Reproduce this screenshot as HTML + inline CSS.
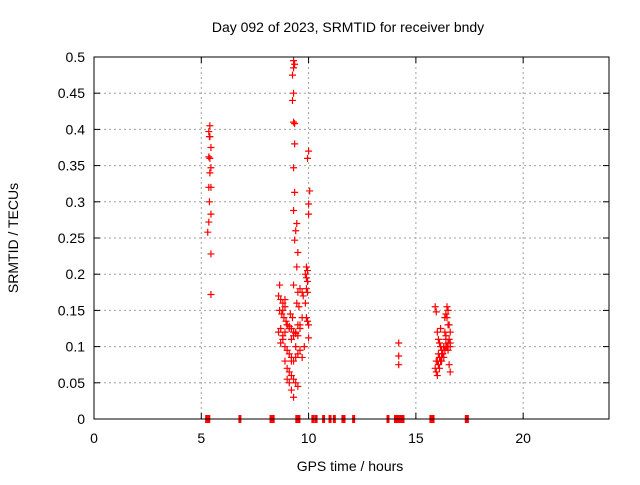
<!DOCTYPE html>
<html><head><meta charset="utf-8"><style>
body{margin:0;background:#fff;font-family:"Liberation Sans",sans-serif}
svg text{font-family:"Liberation Sans",sans-serif;font-size:14px;fill:#000}
</style></head><body>
<svg id="chart" width="640" height="480" xmlns="http://www.w3.org/2000/svg">
<rect width="640" height="480" fill="#fff"/>
<text x="348" y="32" text-anchor="middle">Day 092 of 2023, SRMTID for receiver bndy</text>
<text x="350" y="471" text-anchor="middle">GPS time / hours</text>
<text transform="translate(18,238) rotate(-90)" text-anchor="middle">SRMTID / TECUs</text>
<g id="grid"></g>
<g id="axes"></g>
<g id="pts"></g>
<rect x="94" y="57" width="515" height="362" fill="none" stroke="#000" stroke-width="1"/>
</svg>
<script>
const xTicks=[0,5,10,15,20];
const yTicks=[0,0.05,0.1,0.15,0.2,0.25,0.3,0.35,0.4,0.45,0.5];
const yTickLabels=["0","0.05","0.1","0.15","0.2","0.25","0.3","0.35","0.4","0.45","0.5"];
const hours=[5.4,5.35,5.4,5.38,5.45,5.35,5.4,5.45,5.4,5.35,5.45,5.38,5.45,5.35,5.3,5.45,5.45,
9.3,9.35,9.3,9.25,9.3,9.25,9.3,9.35,9.35,9.3,9.35,9.3,9.45,9.4,9.35,9.5,9.45,9.3,9.5,
10.0,9.95,10.05,10.0,10.0,9.9,9.95,9.85,9.9,9.95,9.9,9.95,9.85,9.9,9.95,10.0,10.0,
8.6,8.7,8.8,8.9,8.65,8.75,8.85,8.95,9.0,9.1,9.2,9.3,9.4,9.5,9.6,9.7,8.6,8.7,8.8,8.9,9.0,9.1,9.2,9.3,9.4,9.5,9.6,9.8,
8.7,8.8,8.9,9.0,9.1,9.2,9.3,9.4,9.5,9.6,9.7,8.9,9.0,9.1,9.2,9.3,9.4,9.5,9.0,9.1,9.2,9.3,9.4,9.2,9.25,8.8,9.6,9.7,8.65,8.9,9.15,9.45,9.55,9.75,
14.2,14.2,14.2,
15.9,15.95,16.0,16.05,16.1,16.15,16.2,16.25,16.3,16.35,16.4,16.45,16.5,16.55,16.6,15.9,16.0,16.1,16.2,16.3,16.4,16.5,16.6,15.95,16.05,16.15,16.25,16.35,16.45,16.55,16.0,16.1,16.2,16.3,16.4,16.5,16.6,16.05,16.2,16.35,16.5,16.45,16.55,16.15,16.25,15.95,16.4,16.6];
const values=[0.405,0.397,0.39,0.39,0.375,0.362,0.36,0.347,0.34,0.32,0.32,0.3,0.283,0.272,0.258,0.228,0.172,
0.495,0.49,0.485,0.475,0.45,0.44,0.41,0.408,0.38,0.347,0.313,0.288,0.27,0.26,0.247,0.23,0.21,0.185,0.175,
0.37,0.36,0.315,0.297,0.283,0.21,0.205,0.2,0.195,0.19,0.18,0.175,0.16,0.14,0.135,0.13,0.112,
0.17,0.165,0.16,0.155,0.15,0.145,0.14,0.135,0.13,0.128,0.125,0.12,0.118,0.115,0.13,0.14,0.12,0.125,0.115,0.12,0.13,0.125,0.11,0.115,0.12,0.13,0.125,0.1,
0.105,0.11,0.1,0.095,0.09,0.085,0.08,0.1,0.09,0.095,0.085,0.08,0.07,0.065,0.06,0.055,0.05,0.045,0.055,0.05,0.04,0.03,0.085,0.08,0.14,0.15,0.18,0.175,0.185,0.165,0.145,0.16,0.155,0.17,
0.105,0.087,0.075,
0.155,0.148,0.12,0.11,0.105,0.1,0.095,0.09,0.085,0.14,0.145,0.155,0.15,0.13,0.12,0.07,0.08,0.085,0.09,0.1,0.11,0.095,0.1,0.065,0.075,0.08,0.09,0.095,0.1,0.11,0.06,0.07,0.08,0.1,0.115,0.13,0.105,0.09,0.085,0.12,0.105,0.14,0.075,0.125,0.09,0.08,0.1,0.065,0.095];
const zeroHours=[5.25,5.3,5.35,6.8,8.25,8.3,8.35,9.45,9.5,9.55,10.2,10.35,10.7,11.0,11.2,11.6,11.65,12.1,13.7,14.05,14.1,14.15,14.2,14.25,14.3,14.35,14.4,15.7,15.75,15.8,17.35,17.4];
const X0=94,X1=609,Y0=419,Y1=57;
const sx=v=>X0+v/24*(X1-X0), sy=v=>Y0-v/0.5*(Y0-Y1);
const NS="http://www.w3.org/2000/svg";
function mk(p,t,a){const e=document.createElementNS(NS,t);for(const k in a)e.setAttribute(k,a[k]);p.appendChild(e);return e;}
const g=document.getElementById('grid'),ax=document.getElementById('axes'),pts=document.getElementById('pts');
xTicks.forEach(t=>{const x=sx(t);
 if(t>0){const l=mk(g,'line',{x1:x,y1:Y0,x2:x,y2:Y1,stroke:'#a0a0a0','stroke-dasharray':'2,3'});}
 const tk=mk(ax,'line',{x1:x,y1:Y0,x2:x,y2:Y0-6,stroke:'#000'});
 const tk2=mk(ax,'line',{x1:x,y1:Y1,x2:x,y2:Y1+6,stroke:'#000'});
 const tx=mk(ax,'text',{x:x,y:Y0+24,'text-anchor':'middle'});tx.textContent=t;});
yTicks.forEach((t,i)=>{const y=sy(t);
 if(i>0&&i<yTicks.length-1){const l=mk(g,'line',{x1:X0,y1:y,x2:X1,y2:y,stroke:'#a0a0a0','stroke-dasharray':'2,3'});}
 const tk=mk(ax,'line',{x1:X0,y1:y,x2:X0+6,y2:y,stroke:'#000'});
 const tk2=mk(ax,'line',{x1:X1,y1:y,x2:X1-6,y2:y,stroke:'#000'});
 const tx=mk(ax,'text',{x:X0-9,y:y+5,'text-anchor':'end'});tx.textContent=yTickLabels[i];});
function plus(h,v){const x=sx(h),y=sy(v);
 const p=mk(pts,'path',{d:`M${x-3.5},${y}H${x+3.5}M${x},${y-3.5}V${y+3.5}`,stroke:'#f00','stroke-width':1.2,fill:'none'});
 }
function zeroMark(h){const x=sx(h),y=sy(0);
 const r=mk(pts,'rect',{x:x-1.5,y:y-4,width:3,height:8,fill:'#f00'});
 }
hours.forEach((h,i)=>plus(h,values[i]));
zeroHours.forEach(h=>zeroMark(h));
</script>
</body></html>
